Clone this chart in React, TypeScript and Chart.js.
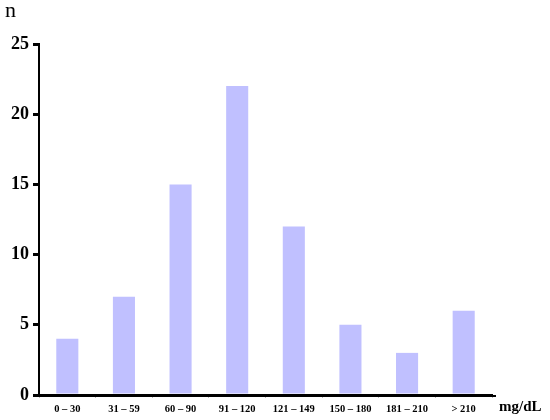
import React, { useEffect, useRef } from "react";
import { Chart, registerables } from "chart.js";

Chart.register(...registerables);

const categories = ["0 – 30", "31 – 59", "60 – 90", "91 – 120", "121 – 149", "150 – 180", "181 – 210", "> 210"];
const counts = [4, 7, 15, 22, 12, 5, 3, 6];
const yTicks = [0, 5, 10, 15, 20, 25];
const yTitle = "n";
const xTitle = "mg/dL";

const FONT = "'Liberation Serif', 'DejaVu Serif', serif";

const titlesPlugin = {
  id: "titles",
  afterDraw(chart: any) {
    const ctx = chart.ctx;
    const a = chart.chartArea;
    ctx.save();
    ctx.fillStyle = "#000";
    ctx.font = `22px ${FONT}`;
    ctx.textAlign = "left";
    ctx.textBaseline = "middle";
    ctx.fillText(yTitle, 5, 11);
    ctx.font = `bold 15px ${FONT}`;
    ctx.fillText(xTitle, 499, 407);
    // extend x axis line slightly
    ctx.strokeStyle = "#000";
    ctx.lineWidth = 2;
    ctx.beginPath();
    ctx.moveTo(33, a.bottom + 1);
    ctx.lineTo(a.right + 4, a.bottom + 1);
    ctx.stroke();
    ctx.restore();
  },
};

export default function App() {
  const ref = useRef<HTMLCanvasElement>(null);
  useEffect(() => {
    if (!ref.current) return;
    const chart = new Chart(ref.current, {
      type: "bar",
      data: {
        labels: categories,
        datasets: [
          {
            data: counts,
            backgroundColor: "rgb(192,192,255)",
            borderWidth: 0,
            barPercentage: 0.78,
            categoryPercentage: 0.5,
          },
        ],
      },
      options: {
        animation: false,
        responsive: false,
        layout: { padding: { top: 44, right: 58, left: 0, bottom: 0 } },
        plugins: { legend: { display: false }, tooltip: { enabled: false } },
        scales: {
          x: {
            grid: { display: true, drawOnChartArea: false, tickLength: 3, color: "#bbb", lineWidth: 1 },
            border: { display: true, color: "#000", width: 2 },
            ticks: { color: "#000", font: { family: FONT, size: 10.5, weight: "bold" }, padding: 5, maxRotation: 0 },
            afterFit(scale: any) { scale.height = 25; },
          },
          y: {
            min: 0,
            max: 25,
            afterBuildTicks(scale: any) { scale.ticks = yTicks.map((v) => ({ value: v })); },
            grid: { display: true, drawOnChartArea: false, tickLength: 6, color: "#000", lineWidth: 3 },
            border: { display: true, color: "#000", width: 2 },
            ticks: { color: "#000", font: { family: FONT, size: 18, weight: "bold" }, padding: 4 },
            afterFit(scale: any) { scale.width = 39; },
          },
        },
      },
      plugins: [titlesPlugin],
    });
    return () => chart.destroy();
  }, []);
  return (
    <div style={{ position: "fixed", left: 0, top: 0, width: 550, height: 420, background: "#fff" }}>
      <canvas ref={ref} width={550} height={420} style={{ width: 550, height: 420 }} />
    </div>
  );
}
